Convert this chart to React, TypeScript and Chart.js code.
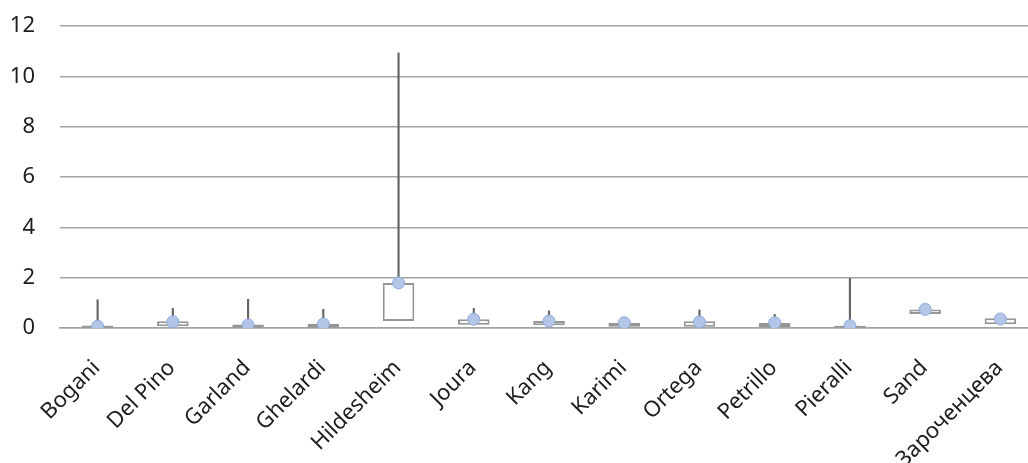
import React, { useEffect, useRef } from "react";
import { Chart, registerables } from "chart.js";

Chart.register(...registerables);

const categories = [
  "Bogani", "Del Pino", "Garland", "Ghelardi", "Hildesheim", "Joura", "Kang",
  "Karimi", "Ortega", "Petrillo", "Pieralli", "Sand", "Зароченцева",
];
const q1Values = [0.01, 0.07, 0.01, 0.01, 0.28, 0.13, 0.11, 0.05, 0.05, 0.04, 0.01, 0.56, 0.15];
const q3Values = [0.1, 0.27, 0.14, 0.17, 1.79, 0.35, 0.28, 0.21, 0.27, 0.2, 0.09, 0.74, 0.39];
const maxValues = [1.12, 0.78, 1.14, 0.74, 10.93, 0.78, 0.68, null, 0.72, 0.54, 1.97, null, null];
const meanValues = [0.07, 0.25, 0.12, 0.16, 1.79, 0.35, 0.28, 0.21, 0.24, 0.21, 0.09, 0.74, 0.36];
const yTicks = [0, 2, 4, 6, 8, 10, 12];

const FONT = "'Noto Sans', 'Open Sans', sans-serif";
const CANVAS_W = 1045;

export default function App() {
  const ref = useRef<HTMLCanvasElement | null>(null);
  useEffect(() => {
    if (!ref.current) return;
    const boxData = categories.map((_, i) => [q1Values[i], q3Values[i]]);
    const whiskerData = categories.map((_, i) =>
      maxValues[i] == null ? null : [q3Values[i], maxValues[i]]
    );
    const chart = new Chart(ref.current, {
      type: "bar",
      data: {
        labels: categories,
        datasets: [
          {
            type: "line",
            label: "mean",
            data: meanValues,
            showLine: false,
            pointRadius: 6,
            pointBackgroundColor: "#b4c6e7",
            pointBorderColor: "#8faadc",
            pointBorderWidth: 1,
            order: 0,
          } as any,
          {
            label: "box",
            data: boxData as any,
            backgroundColor: "#ffffff",
            borderColor: "#969696",
            borderWidth: 2,
            borderSkipped: false,
            grouped: false,
            categoryPercentage: 1,
            barPercentage: 0.42,
            order: 1,
          } as any,
          {
            label: "whisker",
            data: whiskerData as any,
            backgroundColor: "#666666",
            borderWidth: 0,
            grouped: false,
            barThickness: 1.5,
            order: 2,
          } as any,
        ],
      },
      options: {
        animation: false,
        responsive: false,
        maintainAspectRatio: false,
        layout: { padding: { top: 26, left: 0, right: 0, bottom: 0 } },
        plugins: { legend: { display: false }, tooltip: { enabled: false } },
        scales: {
          x: {
            grid: { display: false, drawTicks: true, tickLength: 27 },
            border: { display: true, color: "#a3a3a3", width: 1.6 },
            ticks: {
              color: "#1e1e1e",
              font: { family: FONT, size: 22 },
              minRotation: 45,
              maxRotation: 45,
              autoSkip: false,
              padding: 0,
              labelOffset: -1,
            },
            afterFit: (s: any) => {
              s.height = 135;
            },
          },
          y: {
            min: 0,
            max: 12,
            afterBuildTicks: (s: any) => {
              s.ticks = yTicks.map((v) => ({ value: v }));
            },
            grid: { color: "#a3a3a3", lineWidth: 1.5, drawTicks: false },
            border: { display: false },
            ticks: {
              color: "#1e1e1e",
              font: { family: FONT, size: 22 },
              padding: 25,
            },
            afterFit: (s: any) => {
              s.width = 60;
              s.paddingTop = 0;
              s.paddingBottom = 0;
            },
          },
        },
      },
    });
    return () => chart.destroy();
  }, []);
  return (
    <div style={{ position: "absolute", left: 0, top: 0, width: 1028, height: 463, overflow: "hidden", background: "#fff" }}>
      <canvas ref={ref} width={CANVAS_W} height={463} style={{ width: CANVAS_W, height: 463, display: "block" }} />
    </div>
  );
}
